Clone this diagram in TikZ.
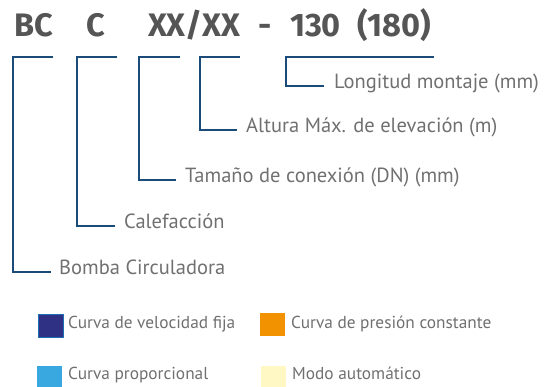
\documentclass[tikz,border=0pt]{standalone}
\usepackage{fontspec}
\setmainfont{PT Sans}
\newfontfamily\titlefont{Fira Sans}
\usepackage{xcolor}
\definecolor{linkblue}{HTML}{1B4B78}
\definecolor{titlegrey}{HTML}{555555}
\definecolor{labelgrey}{HTML}{707070}
\definecolor{fijanavy}{HTML}{2E3184}
\definecolor{fijaedge}{HTML}{1F6FB6}
\definecolor{presorange}{HTML}{F39200}
\definecolor{propblue}{HTML}{3AA8E0}
\definecolor{autocream}{HTML}{FFF7C4}

\tikzset{
  code/.style={anchor=base,inner sep=0pt,text=titlegrey,font=\titlefont\bfseries\fontsize{32.5}{32.5}\selectfont},
  lbl/.style={anchor=mid west,inner sep=0pt,text=labelgrey,font=\fontsize{20.5}{20.5}\selectfont},
  keytext/.style={lbl,font=\fontsize{17.3}{17.3}\selectfont},
  bracket/.style={draw=linkblue,line width=2pt},
  swatch/.style={anchor=north west,inner sep=0pt,minimum width=25pt,minimum height=23pt}
}

\begin{document}
\begin{tikzpicture}[x=1pt,y=-1pt]
\useasboundingbox (0,0) rectangle (554,387);
% model code
\node[code] (bc) at (33.5,37) {BC};
\node[code] (c) at (96,37) {C};
\node[code] (xx) at (194,37) {XX/XX};
\node[code] (dash) at (265,37) {-};
\node[code] (len) at (315.5,37) {130};
\node[code] (lenb) at (394.5,37) {(180)};
% meanings
\node[lbl] (bomba) at (59,272) {Bomba Circuladora};
\node[lbl] (calef) at (124,226) {Calefacción};
\node[lbl] (dn) at (185,180) {Tamaño de conexión (DN) (mm)};
\node[lbl] (alt) at (246,130) {Altura Máx. de elevación (m)};
\node[lbl] (longi) at (334,86) {Longitud montaje (mm)};
% bracket tops
\coordinate (t1) at (53,57);
\coordinate (t2) at (117,57);
\coordinate (t3) at (180,57);
\coordinate (t4) at (240,57);
\coordinate (t5) at (434,57);
\draw[bracket] (t1) -- (13,57) |- ([xshift=-8pt]bomba.mid west);
\draw[bracket] (t2) -- (77,57) |- ([xshift=-9pt]calef.mid west);
\draw[bracket] (t3) -- (139,57) |- ([xshift=-9pt]dn.mid west);
\draw[bracket] (t4) -- (200,57) |- ([xshift=-9pt]alt.mid west);
\draw[bracket] (t5) -- (286,57) |- ([xshift=-10pt]longi.mid west);
% legend
\node[swatch,fill=fijanavy,draw=fijaedge,line width=1.5pt,minimum width=25pt,minimum height=23pt] (fija) at (37.5,313.5) {};
\node[keytext] (fijat) at (68,326) {Curva de velocidad fija};
\node[swatch,fill=presorange] (pres) at (260,313) {};
\node[keytext] (prest) at (291,326) {Curva de presión constante};
\node[swatch,fill=propblue,minimum height=21pt] (prop) at (37,366) {};
\node[keytext] (propt) at (68,377) {Curva proporcional};
\node[swatch,fill=autocream,minimum height=21pt] (auto) at (261,366) {};
\node[keytext] (autot) at (292,377) {Modo automático};
\end{tikzpicture}
\end{document}
